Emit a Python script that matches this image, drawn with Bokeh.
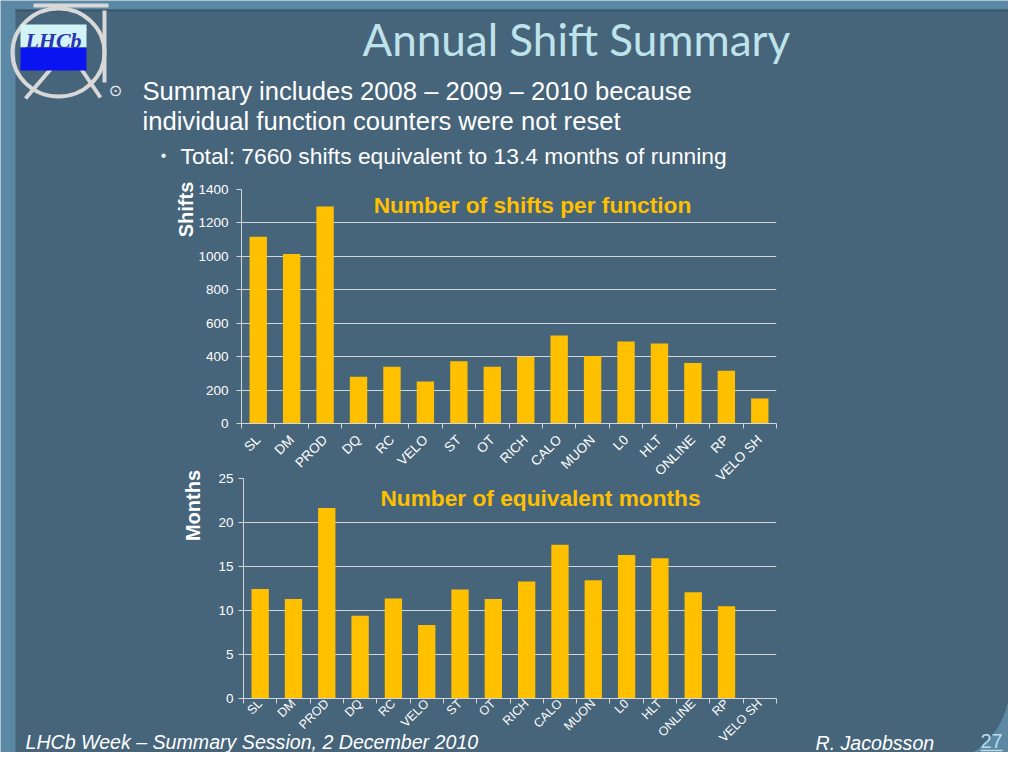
import numpy as np
from math import pi
from bokeh.plotting import figure
from bokeh.layouts import column, row
from bokeh.models import Range1d, FixedTicker
from bokeh.core.properties import value
from bokeh.embed import file_html
from bokeh.resources import INLINE

# ---------------- data ----------------
categories = ["SL", "DM", "PROD", "DQ", "RC", "VELO", "ST", "OT", "RICH",
              "CALO", "MUON", "L0", "HLT", "ONLINE", "RP", "VELO SH"]
shifts = [1117, 1014, 1298, 280, 340, 252, 372, 340, 400,
          526, 404, 490, 478, 362, 316, 150]
months = [12.44, 11.32, 21.65, 9.40, 11.35, 8.35, 12.40, 11.32, 13.30,
          17.47, 13.45, 16.31, 15.94, 12.07, 10.49, np.nan]
shift_ticks = [0, 200, 400, 600, 800, 1000, 1200, 1400]
month_ticks = [0, 5, 10, 15, 20, 25]

# ---------------- style ----------------
W, H = 1008, 752
OUTER = "#5b89a5"
INNER = "#46647a"
BAR = "#ffc000"
GRID = "#d3d7db"
AXC = "#d3d7db"
TXT = "#ffffff"
FONT = "Liberation Sans"

# ---------------- background / slide ----------------
bg = figure(width=W, height=H, x_range=Range1d(0, W), y_range=Range1d(H, 0),
            output_backend="svg", toolbar_location=None, min_border=0,
            x_axis_location=None, y_axis_location=None)
bg.grid.visible = False
bg.outline_line_color = None
bg.background_fill_color = OUTER
bg.border_fill_color = OUTER

t = np.linspace(0, pi / 2, 24)
px = [15, 1010] + list(943 + 67 * np.cos(t)) + [15]
py = [9, 9] + list(680 + 80 * np.sin(t)) + [760]
bg.patch(px, py, fill_color=INNER, line_color=None)
bg.line([15, 1010], [10, 10], line_color="#3b566a", line_width=2)

# logo
bg.ellipse(x=[58], y=[52], width=[92], height=[88], fill_color=None,
           line_color="#d8d8d8", line_width=4)
bg.segment(x0=[33, 104, 25, 75], y0=[5, 10, 98, 60], x1=[108, 104, 85, 100], y1=[5, 82, 28, 97],
           line_color="#d8d8d8", line_width=4)
bg.quad(left=[20], right=[86], top=[24], bottom=[47], fill_color="#d3f4f7", line_color=None)
bg.quad(left=[20], right=[86], top=[47], bottom=[70], fill_color="#0a14f0", line_color=None)
bg.text(x=[53], y=[40], text=["LHCb"], text_font=value("Liberation Serif"),
        text_font_style="bold italic", text_font_size=value("22px"),
        text_color="#2a35b0", text_align="center", text_baseline="middle")

# title
bg.text(x=[362], y=[38], text=["Annual Shift Summary"], text_font=value("Lato"),
        text_font_size=value("44px"), text_color="#bfe3ea",
        text_align="left", text_baseline="middle")

# bullets
bg.text(x=[115], y=[90], text=["\u2299"], text_font=value("DejaVu Sans"),
        text_font_size=value("16px"), text_color="#e8eef2",
        text_align="center", text_baseline="middle")
bg.text(x=[142, 142], y=[90, 120],
        text=["Summary includes 2008 \u2013 2009 \u2013 2010 because",
              "individual function counters were not reset"],
        text_font=value(FONT), text_font_size=value("25.6px"), text_color=TXT,
        text_align="left", text_baseline="middle")
bg.text(x=[163], y=[155], text=["\u2022"], text_font=value(FONT),
        text_font_size=value("16px"), text_color="#e8eef2",
        text_align="center", text_baseline="middle")
bg.text(x=[180], y=[155], text=["Total: 7660 shifts equivalent to 13.4 months of running"],
        text_font=value(FONT), text_font_size=value("22.8px"), text_color=TXT,
        text_align="left", text_baseline="middle")

# axis titles and chart titles
bg.text(x=[185, 192], y=[209, 505], text=["Shifts", "Months"], angle=pi / 2,
        text_font=value(FONT), text_font_style="bold", text_font_size=value("20px"),
        text_color=TXT, text_align="center", text_baseline="middle")
bg.text(x=[532, 540], y=[204, 497],
        text=["Number of shifts per function", "Number of equivalent months"],
        text_font=value(FONT), text_font_style="bold", text_font_size=value("22.7px"),
        text_color=BAR, text_align="center", text_baseline="middle")

# footer
bg.text(x=[25], y=[741], text=["LHCb Week \u2013 Summary Session, 2 December 2010"],
        text_font=value(FONT), text_font_style="italic", text_font_size=value("19.6px"),
        text_color=TXT, text_align="left", text_baseline="middle")
bg.text(x=[815], y=[742], text=["R. Jacobsson"],
        text_font=value(FONT), text_font_style="italic", text_font_size=value("19.6px"),
        text_color=TXT, text_align="left", text_baseline="middle")
bg.text(x=[980], y=[740], text=["27"],
        text_font=value(FONT), text_font_size=value("20px"),
        text_color="#b8dde8", text_align="left", text_baseline="middle")
bg.segment(x0=[980], y0=[750], x1=[1002], y1=[750], line_color="#b8dde8", line_width=1.5)


# ---------------- charts ----------------
def chart(vals, ymax, yticks, left_px, top_px, bottom_px, ylab_standoff,
          xlab_standoff, xlab_size, tick_out, tick_in):
    p = figure(width=W, height=H, x_range=Range1d(-0.5, len(categories) - 0.5),
               y_range=Range1d(0, ymax), output_backend="svg", toolbar_location=None,
               min_border_left=left_px, min_border_right=W - 776,
               min_border_top=top_px, min_border_bottom=H - bottom_px)
    p.border_fill_color = None
    p.background_fill_color = None
    p.outline_line_color = None
    xs = list(range(len(categories)))
    p.vbar(x=xs, top=vals, width=0.52, fill_color=BAR, line_color=None)

    p.xaxis.ticker = FixedTicker(ticks=xs, minor_ticks=[i - 0.5 for i in range(len(categories) + 1)])
    p.xaxis.major_label_overrides = {i: c for i, c in enumerate(categories)}
    p.xaxis.major_label_orientation = pi / 4
    p.xaxis.major_tick_line_color = None
    p.xaxis.major_tick_out = 0
    p.xaxis.major_tick_in = 0
    p.xaxis.minor_tick_line_color = AXC
    p.xaxis.minor_tick_out = tick_out
    p.xaxis.minor_tick_in = tick_in
    p.xaxis.axis_line_color = AXC
    p.xaxis.major_label_standoff = xlab_standoff
    p.xaxis.major_label_text_font = FONT
    p.xaxis.major_label_text_font_size = xlab_size
    p.xaxis.major_label_text_color = TXT
    p.xgrid.visible = False

    p.yaxis.ticker = FixedTicker(ticks=yticks)
    p.yaxis.minor_tick_line_color = None
    p.yaxis.major_tick_out = 5
    p.yaxis.major_tick_in = 0
    p.yaxis.major_tick_line_color = AXC
    p.yaxis.axis_line_color = AXC
    p.yaxis.major_label_standoff = ylab_standoff
    p.yaxis.major_label_text_font = FONT
    p.yaxis.major_label_text_font_size = "13.5px"
    p.yaxis.major_label_text_color = TXT
    p.ygrid.grid_line_color = GRID
    p.ygrid.grid_line_width = 1
    return p


c1 = chart(shifts, 1400, shift_ticks, 241, 189, 423, 8, 9, "13.5px", 5, 0)
c2 = chart(months, 25, month_ticks, 243, 478, 701, 5, 3, "12.5px", 0, -5)

r0 = row(bg)
r1 = row(c1)
r2 = row(c2)
r1.margin = (-H, 0, 0, 0)
r2.margin = (-H, 0, 0, 0)

layout = column(r0, r1, r2)

open("out.html", "w").write(file_html(layout, INLINE))
